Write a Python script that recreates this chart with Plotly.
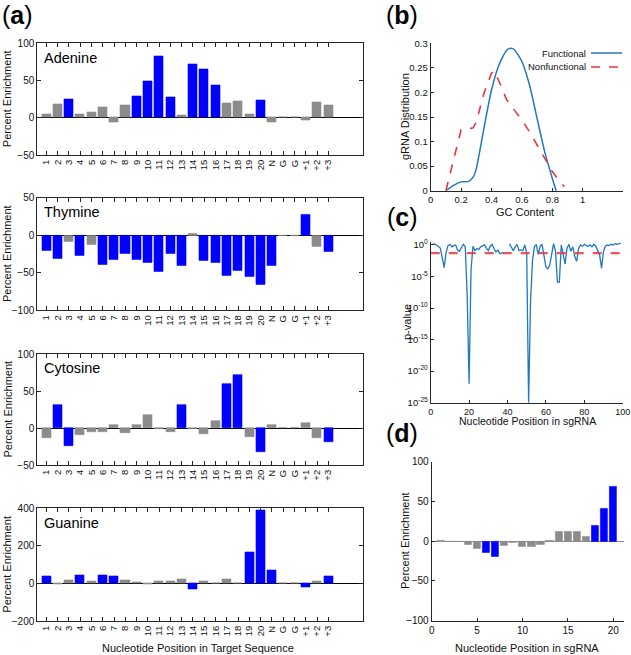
import plotly.graph_objects as go

W, H = 631, 655

# ---------------- data ----------------
positions = [str(i) for i in range(1, 21)] + ["N", "G", "G", "+1", "+2", "+3"]

adenine = [5, 18, 25, 4.5, 7, 14, -6, 17, 29, 49, 83, 28, 3.5, 72, 65, 44,
           20, 22, 4, 24, -6, 0, 0, -3, 21, 17]
adenine_sig = [0, 0, 1, 0, 0, 0, 0, 0, 1, 1, 1, 1, 0, 1, 1, 1,
               0, 0, 0, 1, 0, 0, 0, 0, 0, 0]

thymine = [-21, -31, -8, -27, -13, -39, -32, -24, -33, -36, -48, -24, -41, 2,
           -34, -36, -54, -47, -55, -66, -41, 0, 0, 27, -15, -22]
thymine_sig = [1, 1, 0, 1, 0, 1, 1, 1, 1, 1, 1, 1, 1, 0,
               1, 1, 1, 1, 1, 1, 1, 0, 0, 1, 0, 1]

cytosine = [-13, 31, -24, -10, -5, -6, 4.5, -7, 4.5, 18, -2, -5, 31, -2,
            -8, 9, 60, 72, -12, -33, 4, 0, 0, 7, -13, -19]
cytosine_sig = [0, 1, 1, 0, 0, 0, 0, 0, 0, 0, 0, 0, 1, 0,
                0, 0, 1, 1, 0, 1, 0, 0, 0, 0, 0, 1]

guanine = [39, -2, 17, 42, 12, 44, 40, 17, 7, -3, 12, 11, 21, -33,
           12, 1, 23, 0, 165, 391, 71, 0, 0, -21, 12, 40]
guanine_sig = [1, 0, 0, 1, 0, 1, 1, 0, 0, 0, 0, 0, 0, 1,
               0, 0, 0, 0, 1, 1, 1, 0, 0, 1, 0, 1]

# (b) GC content distributions
gc_functional_x = [0.10, 0.15, 0.20, 0.25, 0.28, 0.30, 0.35, 0.40, 0.45, 0.50,
                   0.53, 0.55, 0.60, 0.65, 0.70, 0.75, 0.80, 0.825]
gc_functional_y = [0.0, 0.011, 0.018, 0.019, 0.028, 0.045, 0.127, 0.205, 0.257,
                   0.286, 0.290, 0.287, 0.263, 0.215, 0.147, 0.079, 0.025, 0.0]
gc_nonfunc_x = [0.10, 0.15, 0.20, 0.22, 0.25, 0.28, 0.30, 0.35, 0.40, 0.42, 0.45,
                0.50, 0.55, 0.60, 0.65, 0.70, 0.75, 0.80, 0.85, 0.88]
gc_nonfunc_y = [0.0, 0.059, 0.124, 0.127, 0.126, 0.128, 0.140, 0.198, 0.239, 0.244,
                0.222, 0.185, 0.164, 0.144, 0.120, 0.093, 0.066, 0.039, 0.018, 0.008]

# (c) log10 p-value per sgRNA position (None = missing)
sg_positions = list(range(1, 100))
log10_p = [0.1, 0.15, 0.0, -0.3, -0.5, -2.0, -3.6, -1.2, -0.1, 0.1,
           -0.3, -0.1, 0.0, -0.8, -1.0, -0.4, 0.1, -0.3, -8.0, -22.0,
           -4.0, -0.2, -0.9, -0.6, -0.7, -0.3, -0.2, 0.0, -0.5, -0.9,
           -0.2, 0.1, -0.6, -1.1, -0.8, -1.4, -1.3, -1.2, None, None,
           0.2, -0.4, -0.9, -0.3, 0.1, -0.9, -0.8, -0.9, 0.0, -1.2,
           -25.0, -9.0, -2.5, -0.3, 0.1, -1.5, -0.2, 0.1, -2.0, -3.5,
           -3.8, -3.2, -1.5, 0.2, -1.0, -5.9, -5.9, 0.0, -1.5, -3.0,
           -0.5, 0.1, -1.0, -0.3, -1.8, -2.6, -0.6, 0.0, -0.2, 0.1,
           -0.1, -0.2, 0.0, -0.3, 0.1, -0.2, -0.9, -1.6, -3.7, -1.0,
           -0.2, 0.0, -0.1, 0.1, 0.0, 0.2, 0.1, 0.2, 0.3]
p_threshold = 0.05
threshold_x = [0, 100]

# (d) percent enrichment per sgRNA position
d_positions = list(range(1, 21))
d_values = [1, 0, 0, -4, -10, -15, -19, -6, -2, -7, -7, -4, 1, 12, 12, 12, 6, 20, 41, 68]
d_sig = [0, 0, 0, 0, 0, 1, 1, 0, 0, 0, 0, 0, 0, 0, 0, 0, 0, 1, 1, 1]

# ---------------- styling ----------------
BLUE = "#0000FF"
GRAY = "#8c8c8c"
LINE_BLUE = "#1f78c1"
LINE_RED = "#e8383d"
FONT = "Liberation Sans, Arial, sans-serif"
AXC = "#262626"


def px_x(p):
    return p / W


def px_y(p):
    return 1 - p / H


def label(text, x, y, size=11, angle=0, xanchor="center", color="#111"):
    return dict(text=text, xref="paper", yref="paper", x=px_x(x), y=px_y(y),
                xanchor=xanchor, yanchor="middle", textangle=angle, showarrow=False,
                font=dict(size=size, color=color, family=FONT))


fig = go.Figure()

xpos = list(range(1, len(positions) + 1))
panels_a = [
    ("Adenine", adenine, adenine_sig, [-50, 100], [-50, 0, 50, 100], 43.3, 155.0),
    ("Thymine", thymine, thymine_sig, [-100, 50], [-100, -50, 0, 50], 197.7, 310.3),
    ("Cytosine", cytosine, cytosine_sig, [-50, 100], [-50, 0, 50, 100], 354.0, 465.0),
    ("Guanine", guanine, guanine_sig, [-200, 400], [-200, 0, 200, 400], 508.3, 621.0),
]

annotations = []
layout_axes = {}
for i, (name, vals, sig, yr, yt, top, bot) in enumerate(panels_a, start=1):
    xa = "x" if i == 1 else f"x{i}"
    ya = "y" if i == 1 else f"y{i}"
    colors = [BLUE if s else GRAY for s in sig]
    fig.add_trace(go.Bar(
        x=xpos, y=vals, xaxis=xa, yaxis=ya, width=0.8,
        marker=dict(color=colors, line=dict(color=colors, width=0.6)),
        showlegend=False,
    ))
    layout_axes["xaxis" if i == 1 else f"xaxis{i}"] = dict(
        domain=[px_x(37.3), px_x(363.3)], anchor=ya, range=[0.2, 29.1],
        tickmode="array", tickvals=xpos, ticktext=positions, tickangle=-90,
        ticks="inside", ticklen=4, tickcolor=AXC, showline=True, linecolor=AXC,
        linewidth=1, mirror="ticks", showgrid=False, zeroline=False, automargin=False,
        tickfont=dict(size=9.5, color="#111", family=FONT),
    )
    layout_axes["yaxis" if i == 1 else f"yaxis{i}"] = dict(
        domain=[px_y(bot), px_y(top)], anchor=xa, range=yr,
        tickmode="array", tickvals=yt, ticks="inside", ticklen=4, tickcolor=AXC,
        showline=True, linecolor=AXC, linewidth=1, mirror="ticks", automargin=False,
        showgrid=False, zeroline=True, zerolinecolor="#000", zerolinewidth=1,
        tickfont=dict(size=10, color="#111", family=FONT),
    )
    annotations.append(label(name, 42, top + 14.5, size=14.5, xanchor="left", color="#000"))
    annotations.append(label("Percent Enrichment", 7, (top + bot) / 2, angle=-90))

annotations.append(label("Nucleotide Position in Target Sequence", 198, 648))

# (b)
fig.add_trace(go.Scatter(x=gc_functional_x, y=gc_functional_y, mode="lines",
                         line=dict(color=LINE_BLUE, width=1.5, shape="spline", smoothing=0.6),
                         xaxis="x5", yaxis="y5", showlegend=False))
fig.add_trace(go.Scatter(x=gc_nonfunc_x, y=gc_nonfunc_y, mode="lines",
                         line=dict(color=LINE_RED, width=1.6, dash="dash"),
                         xaxis="x5", yaxis="y5", showlegend=False))
layout_axes["xaxis5"] = dict(
    domain=[px_x(430.7), px_x(622.7)], anchor="y5", range=[0, 1.263],
    tickmode="array", tickvals=[0, 0.2, 0.4, 0.6, 0.8, 1],
    ticktext=["0", "0.2", "0.4", "0.6", "0.8", "1"],
    ticks="inside", ticklen=3, tickcolor=AXC, showline=True, linecolor=AXC,
    linewidth=1, showgrid=False, zeroline=False, automargin=False,
    tickfont=dict(size=9.5, color="#111", family=FONT))
layout_axes["yaxis5"] = dict(
    domain=[px_y(190.7), px_y(43.3)], anchor="x5", range=[0, 0.3],
    tickmode="array", tickvals=[0, 0.05, 0.1, 0.15, 0.2, 0.25, 0.3],
    ticktext=["0", "0.05", "0.1", "0.15", "0.2", "0.25", "0.3"],
    ticks="inside", ticklen=3, tickcolor=AXC, showline=True, linecolor=AXC,
    linewidth=1, showgrid=False, zeroline=False, automargin=False,
    tickfont=dict(size=9.5, color="#111", family=FONT))
annotations += [
    label("GC Content", 525, 212),
    label("gRNA Distribution", 405, 117, angle=-90),
    label("Functional", 588, 53, size=9.5, xanchor="right"),
    label("Nonfunctional", 588, 67, size=9.5, xanchor="right"),
]
shapes = [
    dict(type="line", xref="paper", yref="paper", x0=px_x(591), x1=px_x(622),
         y0=px_y(53), y1=px_y(53), line=dict(color=LINE_BLUE, width=1.5)),
    dict(type="line", xref="paper", yref="paper", x0=px_x(591), x1=px_x(622),
         y0=px_y(67), y1=px_y(67), line=dict(color=LINE_RED, width=1.6, dash="dash")),
]

# (c)
pvals = [None if v is None else 10 ** v for v in log10_p]
fig.add_trace(go.Scatter(x=sg_positions, y=pvals, mode="lines",
                         line=dict(color=LINE_BLUE, width=1.3), connectgaps=False,
                         xaxis="x6", yaxis="y6", showlegend=False))
fig.add_trace(go.Scatter(x=threshold_x, y=[p_threshold] * len(threshold_x), mode="lines",
                         line=dict(color="rgba(232,56,61,0.85)", width=2.2, dash="dash"),
                         xaxis="x6", yaxis="y6", showlegend=False))
layout_axes["xaxis6"] = dict(
    domain=[px_x(430.7), px_x(622.7)], anchor="y6", range=[0, 100],
    tickmode="array", tickvals=[0, 20, 40, 60, 80, 100],
    ticks="inside", ticklen=3, tickcolor=AXC, showline=True, linecolor=AXC,
    linewidth=1, showgrid=False, zeroline=False, automargin=False,
    tickfont=dict(size=9, color="#111", family=FONT))
layout_axes["yaxis6"] = dict(
    domain=[px_y(402.7), px_y(241.8)], anchor="x6", type="log", range=[-25, 0.5],
    tickmode="array", tickvals=[1e-25, 1e-20, 1e-15, 1e-10, 1e-5, 1],
    ticktext=["10<sup>-25</sup>", "10<sup>-20</sup>", "10<sup>-15</sup>",
              "10<sup>-10</sup>", "10<sup>-5</sup>", "10<sup>0</sup>"],
    ticks="inside", ticklen=3, tickcolor=AXC, showline=True, linecolor=AXC,
    linewidth=1, showgrid=False, zeroline=False, automargin=False,
    tickfont=dict(size=9.5, color="#111", family=FONT))
annotations += [
    label("Nucleotide Position in sgRNA", 527, 421.5, size=10.5),
    label("p-value", 407, 322, angle=-90),
]

# (d)
d_colors = [BLUE if s else GRAY for s in d_sig]
fig.add_trace(go.Bar(x=d_positions, y=d_values, width=0.8, xaxis="x7", yaxis="y7",
                     marker=dict(color=d_colors, line=dict(color=d_colors, width=0.6)),
                     showlegend=False))
layout_axes["xaxis7"] = dict(
    domain=[px_x(431.7), px_x(624)], anchor="y7", range=[0, 21.17],
    tickmode="array", tickvals=[0, 5, 10, 15, 20],
    ticks="inside", ticklen=3, tickcolor=AXC, showline=True, linecolor=AXC,
    linewidth=1, showgrid=False, zeroline=False, automargin=False,
    tickfont=dict(size=10, color="#111", family=FONT))
layout_axes["yaxis7"] = dict(
    domain=[px_y(620.7), px_y(461.7)], anchor="x7", range=[-100, 100],
    tickmode="array", tickvals=[-100, -50, 0, 50, 100],
    ticks="inside", ticklen=3, tickcolor=AXC, showline=True, linecolor=AXC,
    linewidth=1, showgrid=False, zeroline=True, zerolinecolor="#8a8a8a",
    automargin=False,
    zerolinewidth=1, tickfont=dict(size=10, color="#111", family=FONT))
annotations += [
    label("Nucleotide Position in sgRNA", 527, 648),
    label("Percent Enrichment", 405, 541, angle=-90),
]

# panel letters
for letter, xc, yc in [("a", 17, 15), ("b", 402, 15), ("c", 402, 217), ("d", 402, 433)]:
    annotations.append(label(f"(<b>{letter}</b>)", xc, yc, size=25, color="#000"))

fig.update_layout(
    width=W, height=H, autosize=False,
    margin=dict(l=0, r=0, t=0, b=0, pad=0, autoexpand=False),
    paper_bgcolor="white", plot_bgcolor="white",
    bargap=0, showlegend=False,
    font=dict(family=FONT, color="#111"),
    annotations=annotations, shapes=shapes,
    **layout_axes,
)

fig.write_html("out.html", config={"displayModeBar": False},
               post_script="document.body.style.margin='0px';document.body.style.overflow='hidden';")
